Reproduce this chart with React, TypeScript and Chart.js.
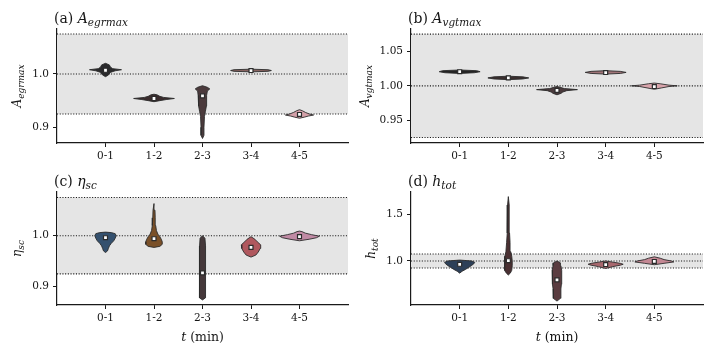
import React, { useEffect, useRef } from 'react';
import { Chart, registerables } from 'chart.js';

Chart.register(...registerables);

// ---------- data ----------
const CATEGORIES = ['0-1', '1-2', '2-3', '3-4', '4-5'];
const BAND_LOW = 0.925;
const BAND_HIGH = 1.075;
const REFERENCE = 1.0;

// violin profiles: [value, half-width in category units]
const EGR_PROFILES: [number, number][][] = [
  [[0.995, 0], [0.998, 0.06], [1.003, 0.1], [1.006, 0.2], [1.008, 0.33], [1.010, 0.15], [1.013, 0.1], [1.017, 0.08], [1.020, 0]],
  [[0.948, 0], [0.950, 0.12], [0.952, 0.25], [0.954, 0.42], [0.956, 0.2], [0.958, 0.12], [0.961, 0.06], [0.962, 0]],
  [[0.879, 0], [0.885, 0.03], [0.90, 0.03], [0.92, 0.04], [0.93, 0.06], [0.94, 0.08], [0.95, 0.08], [0.96, 0.09], [0.968, 0.1], [0.972, 0.15], [0.975, 0.1], [0.978, 0]],
  [[1.004, 0], [1.005, 0.35], [1.0065, 0.42], [1.008, 0.35], [1.009, 0]],
  [[0.917, 0], [0.919, 0.1], [0.921, 0.18], [0.923, 0.29], [0.925, 0.2], [0.928, 0.12], [0.931, 0.06], [0.933, 0]],
];
const EGR_MEDIANS = [1.007, 0.954, 0.959, 1.0065, 0.924];
const EGR_TICKS = [0.9, 1.0];
const EGR_TICK_LABELS = ['0.9', '1.0'];
const EGR_RANGE = [0.8705, 1.0844];

const VGT_PROFILES: [number, number][][] = [
  [[1.018, 0], [1.019, 0.3], [1.0205, 0.42], [1.022, 0.35], [1.023, 0]],
  [[1.009, 0], [1.010, 0.3], [1.0115, 0.42], [1.013, 0.3], [1.014, 0]],
  [[0.987, 0], [0.989, 0.08], [0.991, 0.12], [0.993, 0.2], [0.9945, 0.42], [0.996, 0.15], [0.998, 0.06], [0.999, 0]],
  [[1.017, 0], [1.018, 0.3], [1.0195, 0.42], [1.021, 0.3], [1.022, 0]],
  [[0.995, 0], [0.997, 0.15], [0.999, 0.3], [1.000, 0.47], [1.001, 0.3], [1.003, 0.12], [1.004, 0]],
];
const VGT_MEDIANS = [1.0205, 1.0115, 0.9935, 1.0193, 0.999];
const VGT_TICKS = [0.95, 1.0, 1.05];
const VGT_TICK_LABELS = ['0.95', '1.00', '1.05'];
const VGT_RANGE = [0.917, 1.0825];

const ETA_PROFILES: [number, number][][] = [
  [[0.967, 0], [0.970, 0.04], [0.975, 0.06], [0.980, 0.08], [0.985, 0.12], [0.990, 0.17], [0.995, 0.2], [1.000, 0.22], [1.004, 0.2], [1.006, 0.12], [1.007, 0]],
  [[0.977, 0], [0.979, 0.12], [0.983, 0.17], [0.988, 0.17], [0.993, 0.15], [0.998, 0.12], [1.003, 0.08], [1.010, 0.05], [1.020, 0.035], [1.035, 0.025], [1.050, 0.02], [1.063, 0]],
  [[0.874, 0], [0.878, 0.06], [0.89, 0.06], [0.92, 0.065], [0.95, 0.065], [0.98, 0.06], [0.995, 0.05], [1.000, 0]],
  [[0.958, 0], [0.962, 0.1], [0.968, 0.15], [0.975, 0.19], [0.982, 0.2], [0.988, 0.13], [0.993, 0.08], [0.998, 0]],
  [[0.990, 0], [0.993, 0.2], [0.996, 0.35], [0.999, 0.41], [1.002, 0.25], [1.005, 0.12], [1.008, 0.05], [1.009, 0]],
];
const ETA_MEDIANS = [0.996, 0.994, 0.927, 0.977, 0.998];
const ETA_TICKS = [0.9, 1.0];
const ETA_TICK_LABELS = ['0.9', '1.0'];
const ETA_RANGE = [0.864, 1.0857];

const HTOT_PROFILES: [number, number][][] = [
  [[0.87, 0], [0.89, 0.05], [0.91, 0.12], [0.93, 0.18], [0.95, 0.24], [0.97, 0.29], [0.985, 0.31], [1.0, 0.25], [1.01, 0]],
  [[0.85, 0], [0.87, 0.04], [0.9, 0.07], [0.95, 0.08], [1.0, 0.08], [1.05, 0.07], [1.1, 0.05], [1.2, 0.035], [1.3, 0.025], [1.45, 0.02], [1.6, 0.015], [1.69, 0]],
  [[0.57, 0], [0.6, 0.07], [0.65, 0.08], [0.7, 0.08], [0.75, 0.09], [0.8, 0.09], [0.85, 0.1], [0.9, 0.1], [0.95, 0.08], [0.98, 0.07], [1.0, 0]],
  [[0.92, 0], [0.94, 0.15], [0.955, 0.3], [0.965, 0.36], [0.975, 0.3], [0.99, 0.12], [1.0, 0]],
  [[0.96, 0], [0.975, 0.2], [0.99, 0.4], [1.0, 0.35], [1.015, 0.2], [1.03, 0.12], [1.045, 0]],
];
const HTOT_MEDIANS = [0.965, 1.003, 0.797, 0.962, 0.995];
const HTOT_TICKS = [1.0, 1.5];
const HTOT_TICK_LABELS = ['1.0', '1.5'];
const HTOT_RANGE = [0.5284, 1.7395];

// ---------- styles ----------
const EGR_COLORS = ['#2a2a2c', '#3a2c2d', '#4b3a3c', '#86625f', '#d3a0a8'];
const VGT_COLORS = ['#242424', '#3a2e2e', '#4a3a3c', '#a07478', '#d8a4ab'];
const ETA_COLORS = ['#34506e', '#7a5028', '#45383a', '#b0585e', '#c08aa4'];
const HTOT_COLORS = ['#2d4058', '#4a3032', '#5a3c40', '#a8686e', '#c48894'];

const FONT = 'DejaVu Serif';
const INK = '#151515';

type Seg = { t: string; it?: boolean; sub?: boolean };

type Panel = {
  profiles: [number, number][][];
  medians: number[];
  ticks: number[];
  tickLabels: string[];
  range: number[];
  colors: string[];
  title: Seg[];
  yLabel: Seg[];
  showX: boolean;
  box: { x: number; y: number; w: number; h: number };
  area: { left: number; rightPad: number; top: number; xAxisH: number };
};

function drawRich(ctx: CanvasRenderingContext2D, segs: Seg[], x: number, y: number, size: number, subSize: number, align: 'left' | 'center') {
  const fontFor = (s: Seg) => `${s.it ? 'italic ' : ''}${s.sub ? subSize : size}px "${FONT}"`;
  let total = 0;
  for (const s of segs) {
    ctx.font = fontFor(s);
    total += ctx.measureText(s.t).width;
  }
  let cx = align === 'center' ? x - total / 2 : x;
  ctx.textAlign = 'left';
  ctx.textBaseline = 'alphabetic';
  for (const s of segs) {
    ctx.font = fontFor(s);
    ctx.fillText(s.t, cx, y + (s.sub ? size * 0.24 : 0));
    cx += ctx.measureText(s.t).width;
  }
}

function makeTextPlugin(p: Panel) {
  return {
    id: 'panelText',
    afterDraw(chart: any) {
      const ctx: CanvasRenderingContext2D = chart.ctx;
      const a = chart.chartArea;
      ctx.save();
      ctx.fillStyle = INK;
      drawRich(ctx, p.title, a.left - 3, a.top - 6, 14, 10.5, 'left');
      ctx.font = `10.5px "${FONT}"`;
      const mw = Math.max(...p.tickLabels.map((t) => ctx.measureText(t).width));
      const bx = a.left - 4 - 4 - mw - 11;
      ctx.save();
      ctx.translate(bx, (a.top + a.bottom) / 2);
      ctx.rotate(-Math.PI / 2);
      drawRich(ctx, p.yLabel, 0, 0, 12, 9, 'center');
      ctx.restore();
      if (p.showX) {
        drawRich(ctx, [{ t: 't', it: true }, { t: ' (min)' }], (a.left + a.right) / 2, a.bottom + 36, 12.5, 9, 'center');
      }
      ctx.restore();
    },
  };
}

function buildConfig(p: Panel): any {
  const datasets: any[] = [];
  datasets.push({
    data: [
      { x: -1, y: BAND_LOW }, { x: 5, y: BAND_LOW }, { x: 5, y: BAND_HIGH }, { x: -1, y: BAND_HIGH }, { x: -1, y: BAND_LOW },
    ],
    showLine: true, fill: 'shape', backgroundColor: '#e5e5e5', borderColor: 'rgba(0,0,0,0)', borderWidth: 1, pointRadius: 0, order: 4,
  });
  for (const v of [BAND_LOW, REFERENCE, BAND_HIGH]) {
    datasets.push({
      data: [{ x: -1, y: v }, { x: 5, y: v }],
      showLine: true, fill: false, borderColor: '#1a1a1a', borderWidth: 1.1, borderDash: [1.1, 1.6], pointRadius: 0, order: 3,
    });
  }
  p.profiles.forEach((prof, i) => {
    const right = prof.map(([y, w]) => ({ x: i + w, y }));
    const left = prof.slice().reverse().map(([y, w]) => ({ x: i - w, y }));
    datasets.push({
      data: [...right, ...left],
      showLine: true, fill: 'shape', backgroundColor: p.colors[i], borderColor: '#2b2b2b', borderWidth: 0.9,
      pointRadius: 0, tension: 0, order: 2,
    });
  });
  datasets.push({
    data: p.medians.map((y, i) => ({ x: i, y })),
    showLine: false, pointStyle: 'rect', pointRadius: 2.8, pointBackgroundColor: '#ffffff', pointBorderColor: '#2b2b2b', pointBorderWidth: 1.2, order: 1,
  });

  const tickFont = { family: FONT, size: 10.5 };
  return {
    type: 'scatter',
    data: { datasets },
    options: {
      indexAxis: 'y',
      responsive: false,
      maintainAspectRatio: false,
      animation: false,
      devicePixelRatio: 1,
      events: [],
      layout: { padding: { left: 0, right: p.area.rightPad, top: p.area.top, bottom: 0 } },
      plugins: { legend: { display: false }, tooltip: { enabled: false }, title: { display: false } },
      scales: {
        x: {
          type: 'linear', min: -1, max: 5,
          afterBuildTicks: (s: any) => { s.ticks = CATEGORIES.map((_, i) => ({ value: i })); },
          afterFit: (s: any) => { s.height = p.area.xAxisH; },
          ticks: { callback: (v: any) => CATEGORIES[v] ?? '', font: tickFont, color: INK, padding: 3, maxRotation: 0, autoSkip: false },
          grid: { display: true, drawOnChartArea: false, drawTicks: true, tickLength: 4, color: '#1a1a1a', lineWidth: 1 },
          border: { display: true, color: '#1a1a1a', width: 1.2 },
        },
        y: {
          type: 'linear', min: p.range[0], max: p.range[1], bounds: 'data',
          afterBuildTicks: (s: any) => { s.ticks = p.ticks.map((v) => ({ value: v })); },
          afterFit: (s: any) => { s.width = p.area.left; },
          ticks: { callback: (_v: any, idx: number) => p.tickLabels[idx] ?? '', font: tickFont, color: INK, padding: 4 },
          grid: { display: true, drawOnChartArea: false, drawTicks: true, tickLength: 4, color: '#1a1a1a', lineWidth: 1 },
          border: { display: true, color: '#1a1a1a', width: 1.2 },
        },
      },
    },
    plugins: [makeTextPlugin(p)],
  };
}

const PANELS: Panel[] = [
  {
    profiles: EGR_PROFILES, medians: EGR_MEDIANS, ticks: EGR_TICKS, tickLabels: EGR_TICK_LABELS, range: EGR_RANGE, colors: EGR_COLORS,
    title: [{ t: '(a) ' }, { t: 'A', it: true }, { t: 'egrmax', it: true, sub: true }],
    yLabel: [{ t: 'A', it: true }, { t: 'egrmax', it: true, sub: true }],
    showX: false,
    box: { x: 0, y: 0, w: 357, h: 165 },
    area: { left: 57, rightPad: 9, top: 29, xAxisH: 22 },
  },
  {
    profiles: VGT_PROFILES, medians: VGT_MEDIANS, ticks: VGT_TICKS, tickLabels: VGT_TICK_LABELS, range: VGT_RANGE, colors: VGT_COLORS,
    title: [{ t: '(b) ' }, { t: 'A', it: true }, { t: 'vgtmax', it: true, sub: true }],
    yLabel: [{ t: 'A', it: true }, { t: 'vgtmax', it: true, sub: true }],
    showX: false,
    box: { x: 357, y: 0, w: 357, h: 165 },
    area: { left: 54, rightPad: 11, top: 29, xAxisH: 22 },
  },
  {
    profiles: ETA_PROFILES, medians: ETA_MEDIANS, ticks: ETA_TICKS, tickLabels: ETA_TICK_LABELS, range: ETA_RANGE, colors: ETA_COLORS,
    title: [{ t: '(c) ' }, { t: 'η', it: true }, { t: 'sc', it: true, sub: true }],
    yLabel: [{ t: 'η', it: true }, { t: 'sc', it: true, sub: true }],
    showX: true,
    box: { x: 0, y: 165, w: 357, h: 192 },
    area: { left: 57, rightPad: 9, top: 27, xAxisH: 52 },
  },
  {
    profiles: HTOT_PROFILES, medians: HTOT_MEDIANS, ticks: HTOT_TICKS, tickLabels: HTOT_TICK_LABELS, range: HTOT_RANGE, colors: HTOT_COLORS,
    title: [{ t: '(d) ' }, { t: 'h', it: true }, { t: 'tot', it: true, sub: true }],
    yLabel: [{ t: 'h', it: true }, { t: 'tot', it: true, sub: true }],
    showX: true,
    box: { x: 357, y: 165, w: 357, h: 192 },
    area: { left: 54, rightPad: 11, top: 27, xAxisH: 52 },
  },
];

function PanelChart({ p }: { p: Panel }) {
  const ref = useRef<HTMLCanvasElement | null>(null);
  useEffect(() => {
    if (!ref.current) return;
    const chart = new Chart(ref.current, buildConfig(p));
    return () => chart.destroy();
  }, [p]);
  return (
    <div style={{ position: 'absolute', left: p.box.x, top: p.box.y, width: p.box.w, height: p.box.h }}>
      <canvas ref={ref} width={p.box.w} height={p.box.h} style={{ width: p.box.w, height: p.box.h, display: 'block' }} />
    </div>
  );
}

export default function App() {
  return (
    <div style={{ position: 'fixed', left: 0, top: 0, width: 714, height: 357, background: '#ffffff', overflow: 'hidden' }}>
      {PANELS.map((p, i) => (
        <PanelChart key={i} p={p} />
      ))}
    </div>
  );
}
